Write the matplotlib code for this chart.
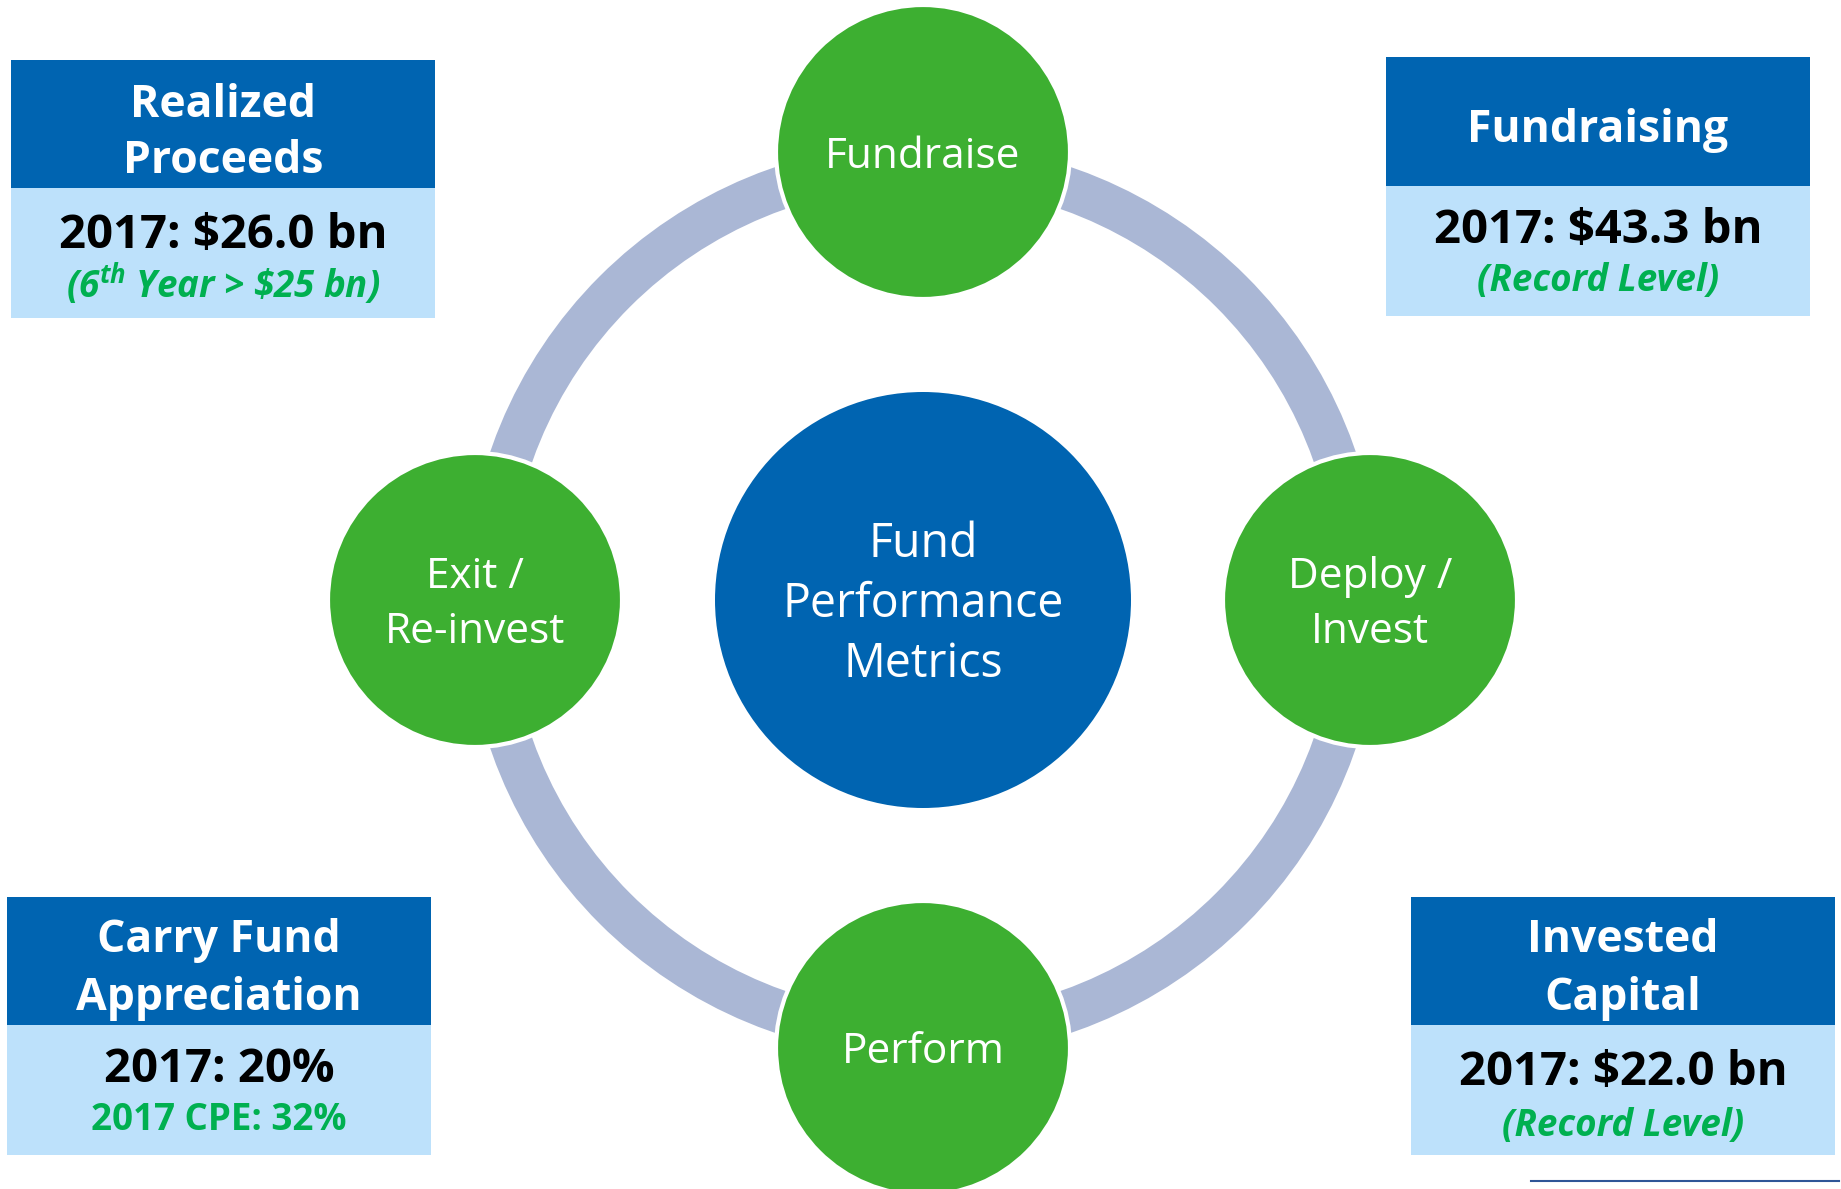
import matplotlib
matplotlib.use('Agg')
import matplotlib.pyplot as plt
from matplotlib.patches import Circle, Rectangle

# chart content
box_titles = [['Realized', 'Proceeds'], ['Fundraising'],
              ['Carry Fund', 'Appreciation'], ['Invested', 'Capital']]
box_values = ['2017: \\$26.0 bn', '2017: \\$43.3 bn', '2017: 20%', '2017: \\$22.0 bn']
box_notes = ['(6$^{\\mathrm{th}}$ Year > \\$25 bn)', '(Record Level)', '2017 CPE: 32%', '(Record Level)']
note_italic = [True, True, False, True]
stage_labels = [['Fundraise'], ['Deploy /', 'Invest'], ['Perform'], ['Exit /', 'Re-invest']]
center_label = ['Fund', 'Performance', 'Metrics']

DARK = '#0064B1'
LIGHT = '#BDE1FB'
GREEN = '#3DAF31'
NOTE_GREEN = '#00B050'
RING = '#AAB7D5'
FONT = 'Open Sans'

plt.rcParams['font.family'] = [FONT, 'DejaVu Sans']
plt.rcParams['mathtext.fontset'] = 'custom'
plt.rcParams['mathtext.rm'] = 'Open Sans:italic:bold'
plt.rcParams['mathtext.it'] = 'Open Sans:italic:bold'
plt.rcParams['mathtext.bf'] = 'Open Sans:italic:bold'

W, H = 1841, 1189
fig = plt.figure(figsize=(W / 100, H / 100), dpi=100)
ax = fig.add_axes([0, 0, 1, 1])
ax.set_xlim(0, W)
ax.set_ylim(H, 0)
ax.axis('off')

# layout (pixels)
cx, cy = 923, 600
ring_r = 436
stage_xy = [(cx, 152), (1370, cy), (cx, 1048), (475, cy)]
stage_base = [[168], [588, 643], [1063], [588, 643]]
box_x = [(11, 435), (1386, 1810), (7, 431), (1411, 1835)]
box_y = [(60, 188, 318), (57, 186, 316), (897, 1025, 1155), (897, 1025, 1155)]
title_base = [[117, 173], [142], [952, 1010], [952, 1010]]
value_base = [248, 243, 1082, 1085]
note_base = [298, 291, 1130, 1136]

# ring behind everything
ax.add_patch(Circle((cx, cy), ring_r, fill=False, ec=RING, lw=43 * 0.72, zorder=1))

# centre circle
ax.add_patch(Circle((cx, cy), 208, fc=DARK, ec='none', zorder=2))
for txt, yb in zip(center_label, [557, 617, 677]):
    ax.text(cx, yb, txt, color='white', fontsize=33.5, ha='center', va='baseline', zorder=5)

# green stage circles
for (x, y), lines, bases in zip(stage_xy, stage_labels, stage_base):
    ax.add_patch(Circle((x, y), 147, fc=GREEN, ec='white', lw=3, zorder=3))
    for txt, yb in zip(lines, bases):
        ax.text(x, yb, txt, color='white', fontsize=30.5, ha='center', va='baseline', zorder=5)

# metric boxes
for i in range(4):
    x0, x1 = box_x[i]
    y0, y1, y2 = box_y[i]
    xm = (x0 + x1) / 2
    ax.add_patch(Rectangle((x0, y0), x1 - x0, y1 - y0, fc=DARK, ec='none', zorder=2))
    ax.add_patch(Rectangle((x0, y1), x1 - x0, y2 - y1, fc=LIGHT, ec='none', zorder=2))
    for txt, yb in zip(box_titles[i], title_base[i]):
        ax.text(xm, yb, txt, color='white', fontsize=32, fontweight='bold',
                ha='center', va='baseline', zorder=5)
    ax.text(xm, value_base[i], box_values[i], color='black', fontsize=34, fontweight='bold',
            ha='center', va='baseline', zorder=5)
    ax.text(xm, note_base[i], box_notes[i], color=NOTE_GREEN, fontsize=26.5, fontweight='bold',
            fontstyle='italic' if note_italic[i] else 'normal',
            ha='center', va='baseline', zorder=5)

# thin rule at bottom right
ax.plot([1531, 1839], [1181, 1181], color='#2F5597', lw=1.5, zorder=2)

fig.savefig('out.png', dpi=100)
